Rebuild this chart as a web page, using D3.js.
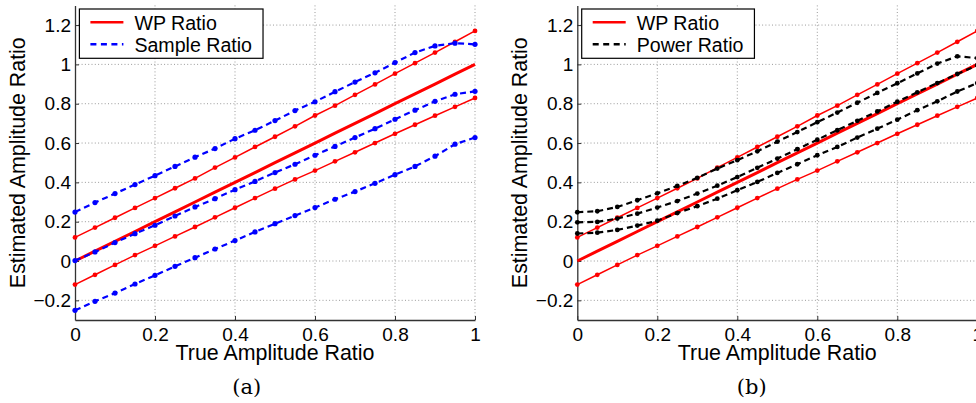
<!DOCTYPE html>
<html>
<head>
<meta charset="utf-8">
<script src="https://cdn.jsdelivr.net/npm/d3@7/dist/d3.min.js"></script>
<style>
  html, body { margin: 0; padding: 0; background: #fff; }
  svg { display: block; }
  text { fill: #000; }
</style>
</head>
<body>
<svg id="fig" width="976" height="403"></svg>
<script>
// True amplitude ratio sampled every 0.05
const trueRatio = [0, 0.05, 0.1, 0.15, 0.2, 0.25, 0.3, 0.35, 0.4, 0.45, 0.5,
                   0.55, 0.6, 0.65, 0.7, 0.75, 0.8, 0.85, 0.9, 0.95, 1];

// WP ratio estimator: mean and upper / lower spread
const wpMean  = [0, 0.05, 0.1, 0.15, 0.2, 0.25, 0.3, 0.35, 0.4, 0.45, 0.5,
                 0.55, 0.6, 0.65, 0.7, 0.75, 0.8, 0.85, 0.9, 0.95, 1];
const wpUpper = [0.12, 0.17, 0.22, 0.27, 0.32, 0.37, 0.42, 0.475, 0.527, 0.58, 0.632,
                 0.685, 0.74, 0.79, 0.845, 0.898, 0.953, 1.006, 1.06, 1.115, 1.17];
const wpLower = [-0.12, -0.07, -0.02, 0.03, 0.077, 0.125, 0.173, 0.222, 0.271, 0.32, 0.368,
                 0.415, 0.46, 0.507, 0.553, 0.6, 0.647, 0.693, 0.739, 0.784, 0.829];

// Sample ratio estimator
const sampleUpper = [0.249, 0.297, 0.343, 0.389, 0.434, 0.481, 0.528, 0.572, 0.622, 0.665, 0.714,
                     0.765, 0.81, 0.861, 0.91, 0.957, 1.009, 1.06, 1.094, 1.108, 1.102];
const sampleMean  = [0.002, 0.046, 0.094, 0.139, 0.182, 0.229, 0.275, 0.317, 0.363, 0.405, 0.45,
                     0.492, 0.538, 0.583, 0.628, 0.673, 0.721, 0.767, 0.812, 0.848, 0.863];
const sampleLower = [-0.251, -0.205, -0.163, -0.117, -0.073, -0.027, 0.017, 0.061, 0.104, 0.148, 0.19,
                     0.231, 0.272, 0.314, 0.353, 0.395, 0.439, 0.481, 0.533, 0.594, 0.628];

// Power ratio estimator
const powerUpper = [0.248, 0.253, 0.275, 0.309, 0.344, 0.382, 0.423, 0.47, 0.513, 0.558, 0.607,
                    0.656, 0.706, 0.755, 0.805, 0.855, 0.904, 0.954, 1.004, 1.041, 1.032];
const powerMean  = [0.197, 0.199, 0.216, 0.241, 0.272, 0.305, 0.343, 0.383, 0.427, 0.474, 0.521,
                    0.569, 0.617, 0.665, 0.713, 0.761, 0.81, 0.858, 0.905, 0.951, 0.996];
const powerLower = [0.14, 0.144, 0.158, 0.18, 0.205, 0.244, 0.279, 0.317, 0.36, 0.402, 0.448,
                    0.492, 0.538, 0.58, 0.628, 0.673, 0.719, 0.767, 0.812, 0.862, 0.905];

// Axis ticks and labels
const xTicks = [0, 0.2, 0.4, 0.6, 0.8, 1];
const xTickLabels = ["0", "0.2", "0.4", "0.6", "0.8", "1"];
const yTicks = [-0.2, 0, 0.2, 0.4, 0.6, 0.8, 1, 1.2];
const yTickLabels = ["\u22120.2", "0", "0.2", "0.4", "0.6", "0.8", "1", "1.2"];

const xTitle = "True Amplitude Ratio";
const yTitle = "Estimated Amplitude Ratio";

const RED = "#ff0000", BLUE = "#0000ff", BLACK = "#000000";
const SANS = "'Liberation Sans', Arial, Helvetica, sans-serif";
const SERIF = "'DejaVu Serif', 'Liberation Serif', serif";

const W = 400, H = 314.6;
const x = d3.scaleLinear().domain([0, 1]).range([0, W]);
const y = d3.scaleLinear().domain([-0.3, 1.3]).range([H, 0]);

const svg = d3.select("#fig");

function drawPanel(ox, oy, cfg) {
  const g = svg.append("g").attr("transform", `translate(${ox},${oy})`);

  // dotted grid
  const grid = g.append("g").attr("stroke", "#9a9a9a").attr("stroke-width", 1)
    .attr("stroke-dasharray", "1,2.3");
  grid.selectAll("line.h").data(yTicks).join("line").attr("class", "h")
    .attr("x1", 0).attr("x2", W).attr("y1", d => y(d)).attr("y2", d => y(d));
  grid.selectAll("line.v").data(xTicks.slice(1)).join("line").attr("class", "v")
    .attr("y1", 0).attr("y2", H).attr("x1", d => x(d)).attr("x2", d => x(d));

  // axes (left and bottom only)
  const ax = d3.axisBottom(x).tickValues(xTicks).tickSizeInner(-4).tickSizeOuter(0).tickPadding(8)
    .tickFormat((d, i) => xTickLabels[i]);
  const ay = d3.axisLeft(y).tickValues(yTicks).tickSizeInner(-4).tickSizeOuter(0).tickPadding(4)
    .tickFormat((d, i) => yTickLabels[i]);
  const gx = g.append("g").attr("transform", `translate(0,${H})`).call(ax);
  const gy = g.append("g").call(ay);
  [gx, gy].forEach(a => {
    a.select(".domain").attr("stroke", "#333").attr("stroke-width", 1.3);
    a.selectAll(".tick line").attr("stroke", "#333");
    a.selectAll("text").style("font-size", "19px").style("fill", "#000")
      .style("font-family", SANS);
  });

  const line = d3.line().x((d, i) => x(trueRatio[i])).y(d => y(d));

  cfg.series.forEach(s => {
    g.append("path").datum(s.values)
      .attr("d", line).attr("fill", "none")
      .attr("stroke", s.color).attr("stroke-width", s.width)
      .attr("stroke-dasharray", s.dash || null)
      .attr("stroke-linejoin", "round");
    if (s.marker) {
      g.append("g").selectAll("circle").data(s.values).join("circle")
        .attr("cx", (d, i) => x(trueRatio[i])).attr("cy", d => y(d))
        .attr("r", s.marker).attr("fill", s.color);
    }
  });

  // axis titles
  g.append("text").attr("x", W / 2).attr("y", 354.6).attr("text-anchor", "middle")
    .style("font-family", SANS).style("font-size", "21.4px").text(xTitle);
  g.append("text").attr("transform", `translate(-50.5,${H / 2}) rotate(-90)`)
    .attr("text-anchor", "middle")
    .style("font-family", SANS).style("font-size", "21.4px").text(yTitle);

  // legend
  const lg = g.append("g").attr("transform", "translate(4.4,3.6)");
  const box = lg.append("rect").attr("x", 0).attr("y", 0).attr("height", 49.3)
    .attr("fill", "#fff").attr("stroke", "#000").attr("stroke-width", 1.2);
  let maxW = 0;
  cfg.legend.forEach((e, i) => {
    const ly = 13.3 + i * 22;
    lg.append("line").attr("x1", 11).attr("x2", 44).attr("y1", ly).attr("y2", ly)
      .attr("stroke", e.color).attr("stroke-width", 2.6)
      .attr("stroke-dasharray", e.dash || null);
    const t = lg.append("text").attr("x", 55).attr("y", ly + 7.2)
      .style("font-family", SANS).style("font-size", "19.6px").text(e.label);
    maxW = Math.max(maxW, t.node().getComputedTextLength());
  });
  box.attr("width", 55 + maxW + 11);

  // sub caption
  svg.append("text").attr("x", cfg.capX).attr("y", 393.5).attr("text-anchor", "middle")
    .style("font-family", SERIF).style("font-size", "21px")
    .text(cfg.caption);
}

drawPanel(75, 5.4, {
  caption: "(a)", capX: 246.7,
  series: [
    { values: wpUpper, color: RED, width: 1.5, marker: 2.4 },
    { values: wpLower, color: RED, width: 1.5, marker: 2.4 },
    { values: wpMean, color: RED, width: 3 },
    { values: sampleUpper, color: BLUE, width: 2.2, dash: "6,4", marker: 2.6 },
    { values: sampleMean, color: BLUE, width: 2.2, dash: "6,4", marker: 2.6 },
    { values: sampleLower, color: BLUE, width: 2.2, dash: "6,4", marker: 2.6 }
  ],
  legend: [
    { label: "WP Ratio", color: RED },
    { label: "Sample Ratio", color: BLUE, dash: "6,4.5" }
  ]
});

drawPanel(577.3, 5.4, {
  caption: "(b)", capX: 751.7,
  series: [
    { values: wpUpper, color: RED, width: 1.5, marker: 2.4 },
    { values: wpLower, color: RED, width: 1.5, marker: 2.4 },
    { values: wpMean, color: RED, width: 3 },
    { values: powerUpper, color: BLACK, width: 2.2, dash: "6,4", marker: 2.4 },
    { values: powerMean, color: BLACK, width: 2.2, dash: "6,4", marker: 2.4 },
    { values: powerLower, color: BLACK, width: 2.2, dash: "6,4", marker: 2.4 }
  ],
  legend: [
    { label: "WP Ratio", color: RED },
    { label: "Power Ratio", color: BLACK, dash: "6,4.5" }
  ]
});
</script>
</body>
</html>
